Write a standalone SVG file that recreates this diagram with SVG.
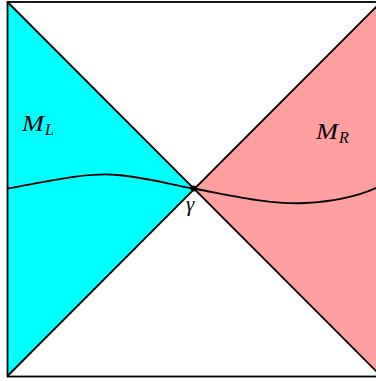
<svg xmlns="http://www.w3.org/2000/svg" width="376" height="381" viewBox="0 0 376 381">
<style>
.ln{fill:none;stroke:#000;stroke-width:1.8}
.m{font-family:"Liberation Serif",serif;font-style:italic;fill:#000}
</style>
<rect width="376" height="381" fill="#fff"/>
<g id="ML"><polygon points="7.5,2 193.5,188.5 7.5,376" fill="#00ffff"/>
<text class="m" x="22" y="131" font-size="24" textLength="22" lengthAdjust="spacingAndGlyphs">M</text><text class="m" x="45" y="135" font-size="16">L</text></g>
<g id="MR"><polygon points="380,2 193.5,188.5 380,376" fill="#ff9f9f"/>
<text class="m" x="316" y="139" font-size="24" textLength="22" lengthAdjust="spacingAndGlyphs">M</text><text class="m" x="339" y="143" font-size="16">R</text></g>
<g id="connectors">
<rect class="ln" x="7.5" y="2" width="373" height="374.5"/>
<line class="ln" x1="7.5" y1="2" x2="381" y2="376"/>
<line class="ln" x1="7.5" y1="376" x2="381" y2="2"/>
<path class="ln" d="M7.5,188.5 C50,181 88,172 118,175 C150,178 172,185 193.5,188.5 C230,195 270,205 305,203 C340,201 362,195 380,186"/>
</g>
<g id="gamma"><circle cx="193.5" cy="188.5" r="3"/>
<text class="m" x="186" y="211" font-size="21">γ</text></g>
</svg>
